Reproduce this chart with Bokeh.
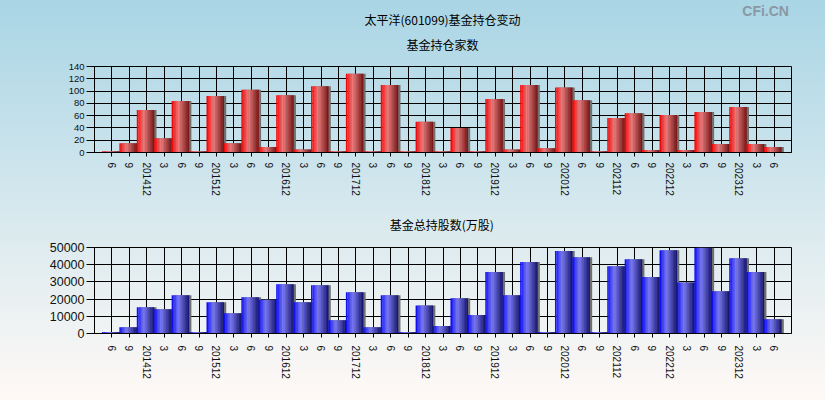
from bokeh.plotting import figure
from bokeh.models import ColumnDataSource, FixedTicker, Range1d
from bokeh.layouts import column
from bokeh.embed import file_html
from bokeh.resources import INLINE
from bokeh.core.properties import value

# ---- data ----
periods = ["6", "9", "201412", "3", "6", "9", "201512", "3", "6", "9", "201612",
           "3", "6", "9", "201712", "3", "6", "9", "201812", "3", "6", "9", "201912",
           "3", "6", "9", "202012", "6", "9", "202112", "6", "9", "202212", "3", "6",
           "9", "202312", "3", "6"]
fund_counts = [2, 15, 69, 23, 84, 2, 92, 15, 102, 9, 93, 5, 108, 2, 128, 2, 110, 2,
               50, 2, 40, 2, 87, 5, 110, 7, 106, 85, 2, 56, 64, 4, 61, 4, 66, 14, 74,
               14, 9]
total_shares = [800, 3700, 15300, 14100, 22300, 800, 18200, 11800, 21100, 19600,
                28700, 18200, 28100, 7750, 24000, 3700, 22300, 800, 16300, 4300,
                20500, 10700, 35700, 22300, 41500, 800, 47900, 44400, 800, 39100,
                43200, 32800, 48400, 29700, 49900, 24600, 43800, 35700, 8300]
count_ticks = [0, 20, 40, 60, 80, 100, 120, 140]
share_ticks = [0, 10000, 20000, 30000, 40000, 50000]

main_title = "太平洋(601099)基金持仓变动"
top_title = "基金持仓家数"
bottom_title = "基金总持股数(万股)"
brand = "CFi.CN"

RED_STOPS = [(0.0, (225, 0, 0)), (0.1, (255, 25, 25)), (0.4, (240, 125, 125)), (1.0, (118, 14, 14))]
BLUE_STOPS = [(0.0, (0, 0, 225)), (0.1, (35, 35, 255)), (0.4, (122, 122, 250)), (1.0, (14, 14, 108))]

CJK = "Noto Sans CJK SC"
LAT = "Liberation Sans"
W = 825
BG_TOP = (169, 213, 229)
BG_BOT = (255, 249, 246)


def bg_at(y):
    t = max(0.0, min(1.0, y / 400.0))
    return "#%02x%02x%02x" % tuple(round(a + (b - a) * t) for a, b in zip(BG_TOP, BG_BOT))


def bg_css(y0, y1):
    return {"background": "linear-gradient(to bottom, %s, %s)" % (bg_at(y0), bg_at(y1))}


def grad(stops, t):
    for (t0, c0), (t1, c1) in zip(stops[:-1], stops[1:]):
        if t0 <= t <= t1:
            f = (t - t0) / (t1 - t0)
            r, g, b = (round(c0[j] + (c1[j] - c0[j]) * f) for j in range(3))
            return "#%02x%02x%02x" % (r, g, b)
    return "#%02x%02x%02x" % stops[-1][1]


def text_band(y0, y1, items):
    h = y1 - y0
    p = figure(width=W, height=h, output_backend="svg", toolbar_location=None,
               x_range=Range1d(0, W), y_range=Range1d(h, 0),
               min_border=0, styles=bg_css(y0, y1))
    p.axis.visible = False
    p.grid.visible = False
    p.outline_line_color = None
    p.background_fill_alpha = 0
    p.border_fill_alpha = 0
    for txt, x, y, font, size, style, align, color in items:
        p.text(x=[x], y=[y - y0], text=[txt], text_font=value(font),
               text_font_size=size, text_font_style=style, text_align=align,
               text_baseline="middle", text_color=color)
    return p


def make_chart(values, ticks, stops, y0, y1, bl, bt, bb, ylab_size, xstand):
    n = len(values)
    p = figure(width=W, height=y1 - y0, output_backend="svg", toolbar_location=None,
               x_range=Range1d(0, n + 1), y_range=Range1d(ticks[0], ticks[-1]),
               min_border_left=bl, min_border_right=34, min_border_top=bt,
               min_border_bottom=bb, styles=bg_css(y0, y1))
    p.background_fill_alpha = 0
    p.border_fill_alpha = 0
    p.outline_line_color = "black"
    p.outline_line_width = 1
    p.outline_line_alpha = 1

    centers = [i + 1 - 0.07 for i in range(n)]
    shadow = ColumnDataSource(dict(x=[c + 0.13 for c in centers], top=values))
    p.vbar(x="x", top="top", bottom=0, width=1.0, source=shadow,
           fill_color="#707070", line_color=None)

    ns = 12
    xs, tops, cols = [], [], []
    for c, v in zip(centers, values):
        left = c - 0.5
        for k in range(ns):
            xs.append(left + (k + 0.5) / ns)
            tops.append(v)
            cols.append(grad(stops, (k + 0.5) / ns))
    src = ColumnDataSource(dict(x=xs, top=tops, color=cols))
    p.vbar(x="x", top="top", bottom=0, width=1.0 / ns + 0.006, source=src,
           fill_color="color", line_color=None)

    xa = p.xaxis[0]
    xa.ticker = FixedTicker(ticks=list(range(1, n + 1)))
    xa.major_label_overrides = {i + 1: lab for i, lab in enumerate(periods)}
    xa.major_label_orientation = "vertical"
    xa.major_label_text_font = LAT
    xa.major_label_text_font_size = "10px"
    xa.major_label_text_color = "#111111"
    xa.major_tick_in = 0
    xa.major_tick_out = 4
    xa.minor_tick_line_color = None
    xa.major_label_standoff = xstand
    xa.axis_line_color = "black"
    xa.major_tick_line_color = "black"

    ya = p.yaxis[0]
    ya.ticker = FixedTicker(ticks=ticks)
    ya.major_label_text_font = LAT
    ya.major_label_text_font_size = ylab_size
    ya.major_label_text_color = "#111111"
    ya.major_tick_in = 0
    ya.major_tick_out = 8
    ya.minor_tick_line_color = None
    ya.major_label_standoff = 2
    ya.axis_line_color = "black"
    ya.major_tick_line_color = "black"

    p.xgrid.ticker = FixedTicker(ticks=list(range(1, n + 1)))
    p.ygrid.ticker = FixedTicker(ticks=ticks)
    for g in (p.xgrid[0], p.ygrid[0]):
        g.grid_line_color = "black"
        g.grid_line_width = 1
        g.grid_line_alpha = 1
    return p


header = text_band(0, 58, [
    (main_title, 412, 18.5, CJK, "12px", "normal", "center", "black"),
    (top_title, 412, 44, CJK, "12px", "normal", "center", "black"),
    (brand, 822, 10, LAT, "14px", "bold", "right", "#8a98a4"),
])
top = make_chart(fund_counts, count_ticks, RED_STOPS, 58, 208, 76, 8, 56, "9.5px", 6)
middle = text_band(208, 240, [
    (bottom_title, 411, 224, CJK, "12px", "normal", "center", "black"),
])
bottom = make_chart(total_shares, share_ticks, BLUE_STOPS, 240, 400, 94, 7, 67, "12.5px", 8)

layout = column(header, top, middle, bottom, spacing=0)
open("out.html", "w").write(file_html(layout, INLINE))
